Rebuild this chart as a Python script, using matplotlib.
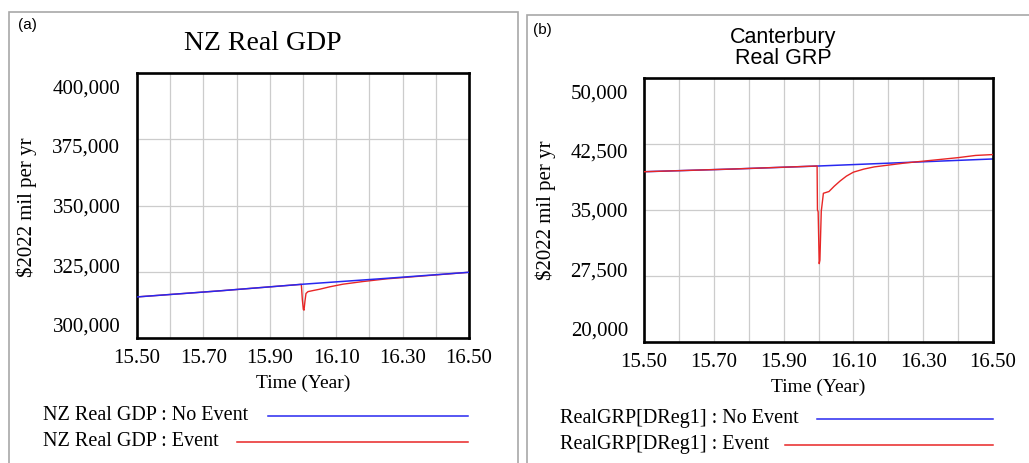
import matplotlib
matplotlib.use("Agg")
import matplotlib.pyplot as plt
from matplotlib.lines import Line2D
from matplotlib.patches import Rectangle

# (a) NZ Real GDP
gdp_t_base = [15.5, 15.75, 16.0, 16.25, 16.5]
gdp_base = [315500, 317800, 320300, 322500, 324800]
gdp_t_event = [15.5, 15.75, 15.995, 15.998, 16.001, 16.003, 16.006, 16.009, 16.015,
               16.03, 16.05, 16.08, 16.12, 16.18, 16.25, 16.3, 16.4, 16.5]
gdp_event = [315500, 317800, 320250, 314500, 310800, 310500, 314000, 316800, 317500,
             317900, 318400, 319300, 320300, 321300, 322300, 322800, 323800, 324800]

# (b) Canterbury Real GRP
grp_t_base = [15.5, 15.75, 16.0, 16.25, 16.5]
grp_base = [39350, 39650, 40000, 40400, 40800]
grp_t_event = [15.5, 15.75, 15.996, 15.997, 15.999, 16.002, 16.004, 16.008, 16.009, 16.014,
               16.03, 16.045, 16.062, 16.08, 16.1, 16.13, 16.16, 16.2, 16.25, 16.3,
               16.35, 16.4, 16.45, 16.5]
grp_event = [39350, 39650, 40000, 35000, 34800, 28900, 29300, 34900, 35200, 36900,
             37100, 37700, 38300, 38850, 39300, 39650, 39900, 40100, 40350, 40550,
             40750, 40950, 41200, 41300]

xticks = [15.5, 15.7, 15.9, 16.1, 16.3, 16.5]
xgrid = [15.5 + 0.1 * i for i in range(11)]
gdp_yticks = [300000, 325000, 350000, 375000, 400000]
grp_yticks = [20000, 27500, 35000, 42500, 50000]

BLUE = "#2828f0"
RED = "#e82626"
SERIF = "Liberation Serif"
SANS = "Liberation Sans"

W, H = 1029, 463
fig = plt.figure(figsize=(W / 100, H / 100), dpi=100)


def fx(px):
    return px / W


def fy(py):
    return 1 - py / H


def setup(ax, yticks, lab_pad):
    lo, hi = yticks[0], yticks[-1]
    mid = (lo + hi) / 2
    ax.xaxis.remove_overlapping_locs = False
    ax.yaxis.remove_overlapping_locs = False
    ax.set_xlim(15.5, 16.5)
    ax.set_ylim(lo, hi)
    ax.set_xticks(xgrid)
    ax.set_xticklabels([])
    ax.set_xticks(xticks, minor=True)
    ax.set_xticklabels(["%.2f" % v for v in xticks], minor=True)
    ax.set_yticks(yticks)
    ax.set_yticklabels([])
    # vensim draws the value labels a bit squeezed toward the middle
    ax.set_yticks([mid + (v - mid) * 0.9 for v in yticks], minor=True)
    ax.set_yticklabels(["{:,}".format(v) for v in yticks], minor=True)
    ax.grid(True, which="major", color="#cccccc", lw=0.9)
    ax.tick_params(which="both", length=0)
    ax.tick_params(axis="y", which="minor", pad=lab_pad)
    ax.tick_params(axis="x", which="minor", pad=8)
    for lab in ax.get_xticklabels(minor=True) + ax.get_yticklabels(minor=True):
        lab.set_fontfamily(SERIF)
        lab.set_fontsize(15)
    for s in ax.spines.values():
        s.set_linewidth(1.9)
        s.set_color("black")
    ax.set_axisbelow(True)


# left panel
ax1 = fig.add_axes([fx(137), fy(338), fx(469) - fx(137), fy(73) - fy(338)])
setup(ax1, gdp_yticks, 12)
ax1.plot(gdp_t_base, gdp_base, color=BLUE, lw=1.1, zorder=3)
ax1.plot(gdp_t_event, gdp_event, color=RED, lw=1.0, zorder=2)
ax1.set_xlabel("Time (Year)", fontfamily=SERIF, fontsize=14)
ax1.xaxis.set_label_coords(0.5, -0.17)
ax1.xaxis.label.set_va("center")
ax1.set_ylabel("$2022 mil per yr", fontfamily=SERIF, fontsize=15)
ax1.yaxis.set_label_coords(-0.331, 0.494)
ax1.yaxis.label.set_va("center")

# right panel
ax2 = fig.add_axes([fx(644), fy(342), fx(993) - fx(644), fy(78) - fy(342)])
setup(ax2, grp_yticks, 11.5)
ax2.plot(grp_t_base, grp_base, color=BLUE, lw=1.1, zorder=2)
ax2.plot(grp_t_event, grp_event, color=RED, lw=1.0, zorder=3)
ax2.set_xlabel("Time (Year)", fontfamily=SERIF, fontsize=14)
ax2.xaxis.set_label_coords(0.4986, -0.17)
ax2.xaxis.label.set_va("center")
ax2.set_ylabel("$2022 mil per yr", fontfamily=SERIF, fontsize=15)
ax2.yaxis.set_label_coords(-0.281, 0.5)
ax2.yaxis.label.set_va("center")

# panel frames
fig.add_artist(Rectangle((fx(9), fy(480)), fx(518) - fx(9), fy(12) - fy(480),
                         transform=fig.transFigure, fill=False, ec="#a8a8a8", lw=1.2))
fig.add_artist(Rectangle((fx(527), fy(480)), fx(1040) - fx(527), fy(15) - fy(480),
                         transform=fig.transFigure, fill=False, ec="#a8a8a8", lw=1.2))

# titles and tags
fig.text(fx(18), fy(25), "(a)", fontfamily=SANS, fontsize=11, va="center")
fig.text(fx(533), fy(30), "(b)", fontfamily=SANS, fontsize=11, va="center")
fig.text(fx(263), fy(43), "NZ Real GDP", fontfamily=SERIF, fontsize=20,
         ha="center", va="center")
fig.text(fx(783), fy(48), "Canterbury\nReal GRP", fontfamily=SANS, fontsize=15.5,
         ha="center", va="center", linespacing=1.0)

# legends
legend_rows = [
    (43, 416, "NZ Real GDP : No Event", 268, 468, BLUE),
    (43, 442, "NZ Real GDP : Event", 237, 468, RED),
    (560, 419, "RealGRP[DReg1] : No Event", 817, 993, BLUE),
    (560, 445, "RealGRP[DReg1] : Event", 785, 993, RED),
]
for tx, ty, txt, x0, x1, col in legend_rows:
    fig.text(fx(tx), fy(ty), txt, fontfamily=SERIF, fontsize=14.5, va="center")
    fig.add_artist(Line2D([fx(x0), fx(x1)], [fy(ty), fy(ty)], color=col, lw=1.1,
                          transform=fig.transFigure))

fig.savefig("out.png", dpi=100)
